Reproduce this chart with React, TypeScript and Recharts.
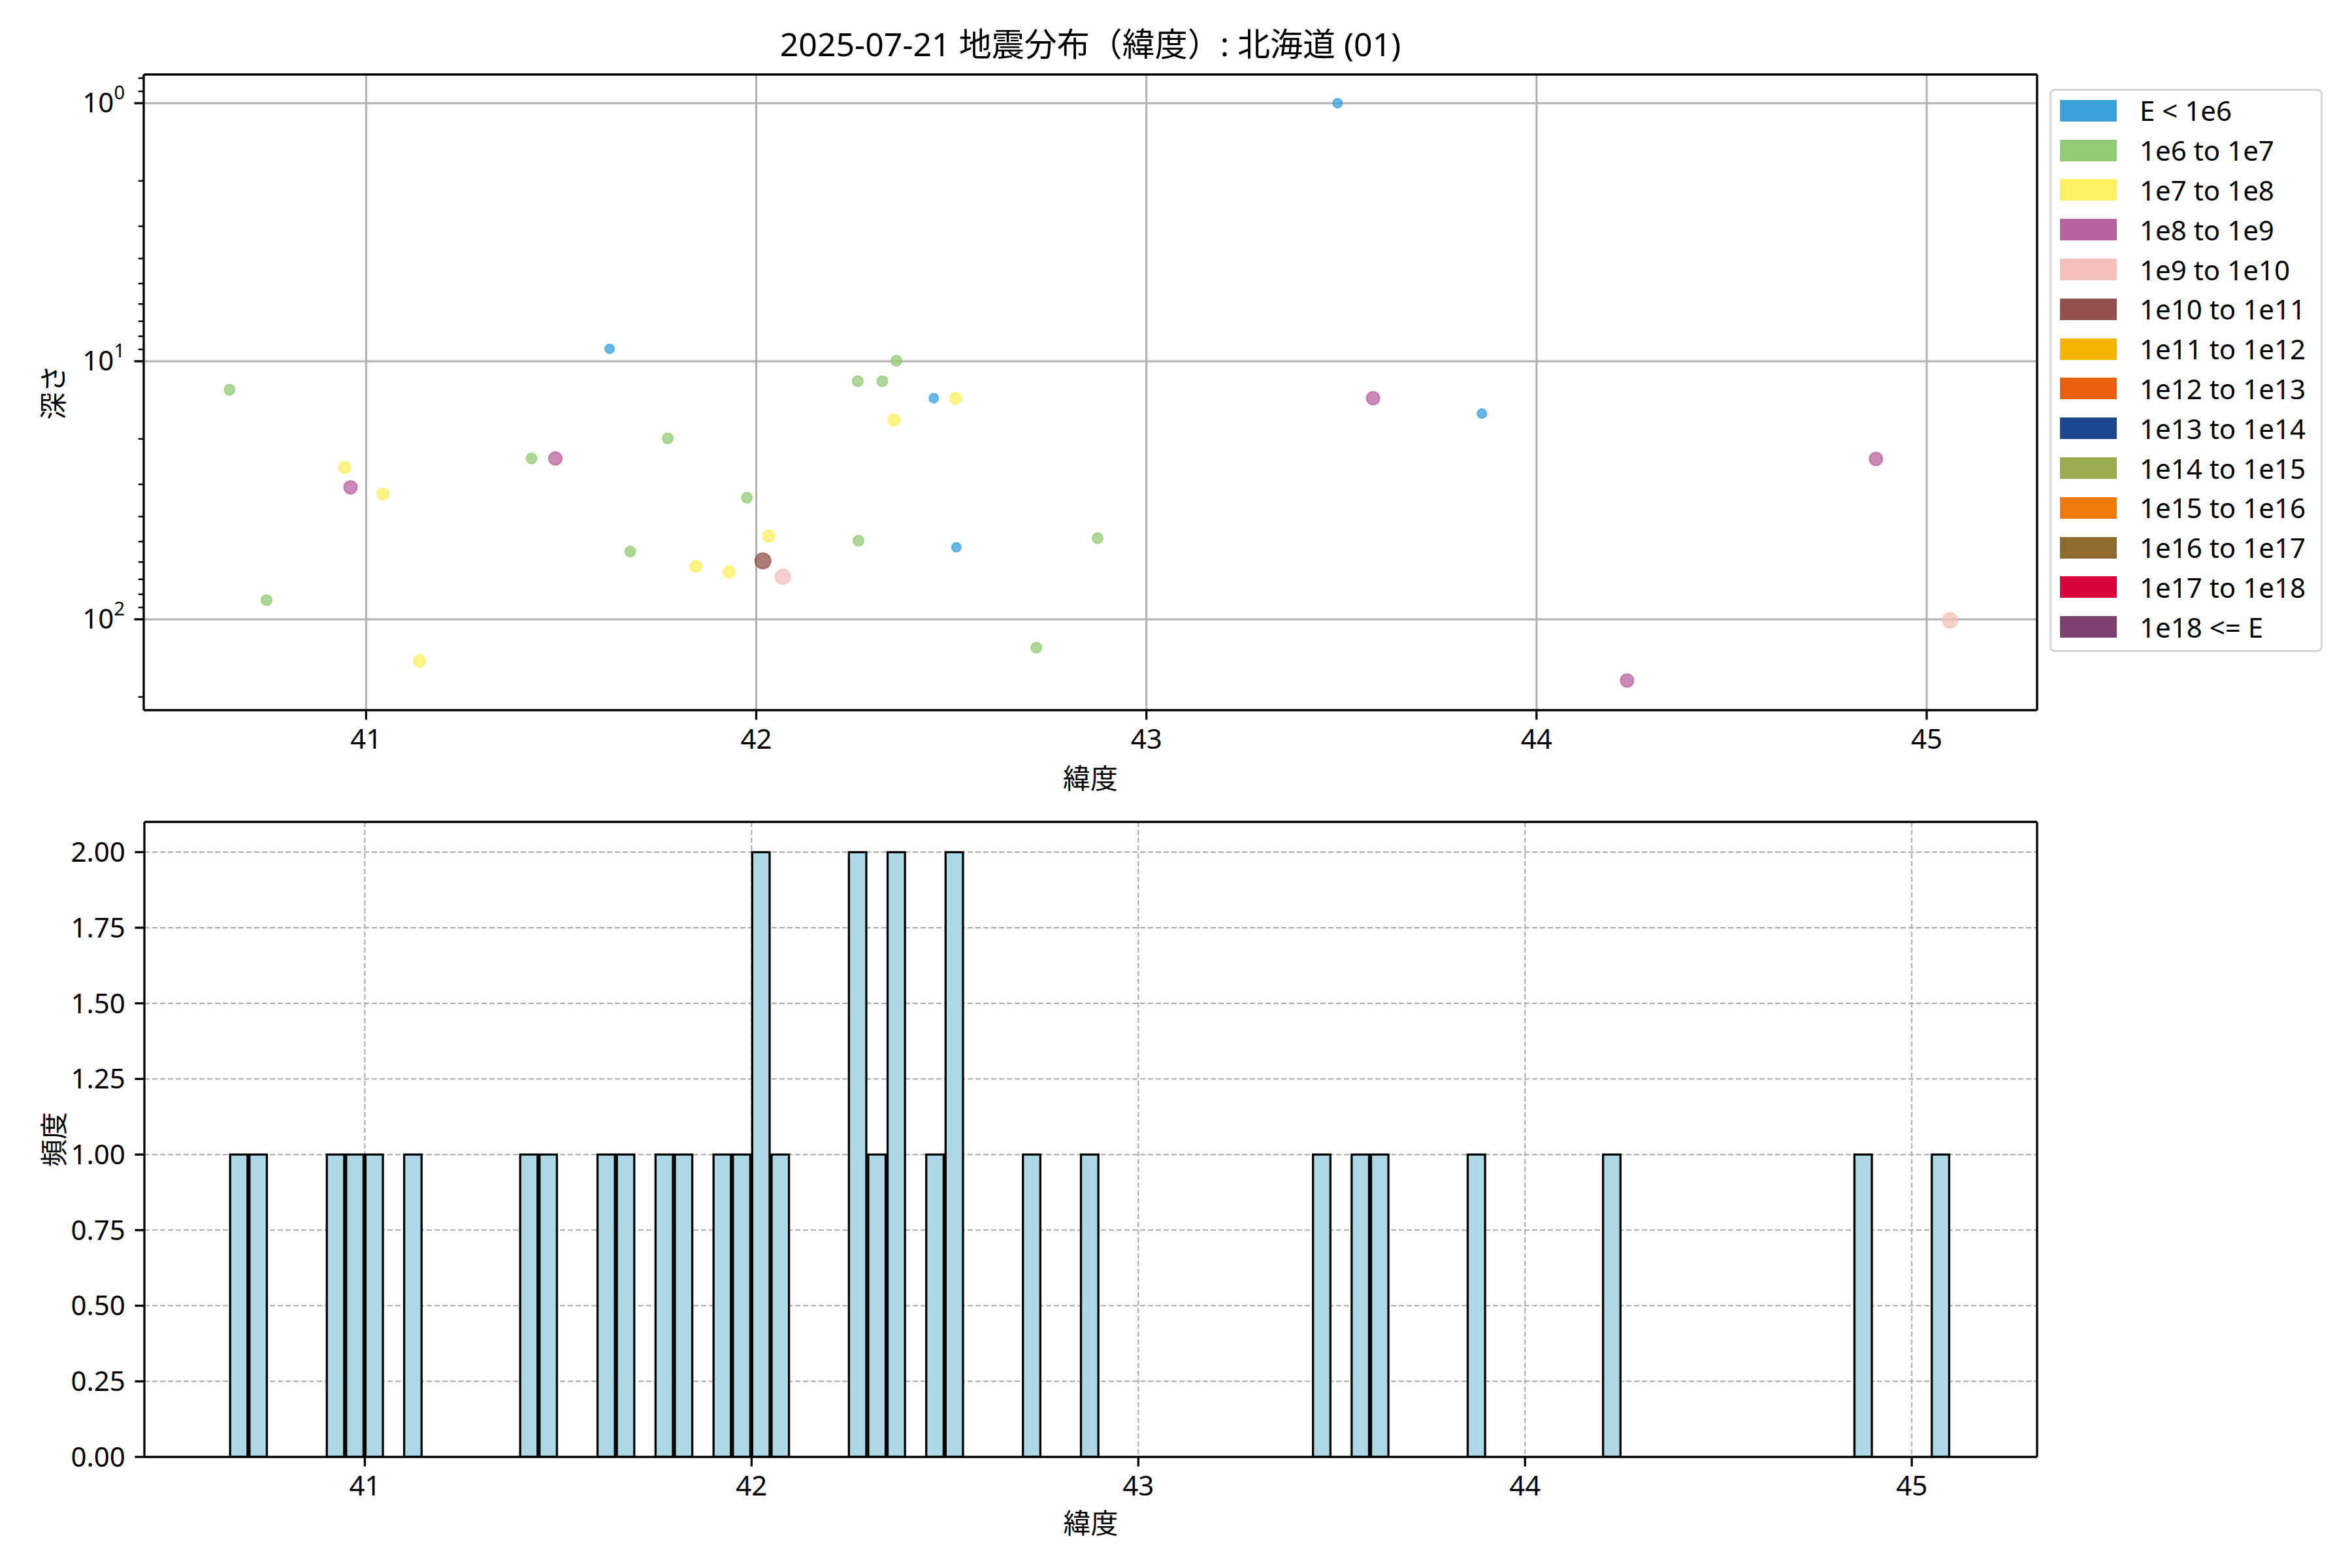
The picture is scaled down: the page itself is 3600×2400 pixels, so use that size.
import {
  ScatterChart,
  Scatter,
  BarChart,
  Bar,
  XAxis,
  YAxis,
  CartesianGrid,
  Legend,
} from 'recharts';

const FONT = "'Noto Sans', 'Noto Sans CJK JP', sans-serif";
const FS = 42;

// energy classes shown in the legend
const energyLabels = [
  'E < 1e6',
  '1e6 to 1e7',
  '1e7 to 1e8',
  '1e8 to 1e9',
  '1e9 to 1e10',
  '1e10 to 1e11',
  '1e11 to 1e12',
  '1e12 to 1e13',
  '1e13 to 1e14',
  '1e14 to 1e15',
  '1e15 to 1e16',
  '1e16 to 1e17',
  '1e17 to 1e18',
  '1e18 <= E',
];
const energyColors = [
  '#3aa0dc', '#92cb76', '#fdef5f', '#b9629f', '#f4c0bc', '#93524b', '#f7b500',
  '#e95f0a', '#1c4890', '#9aac50', '#f07a0a', '#8f6b2d', '#d60239', '#7b3f70',
];
const markerRadius = [7, 8, 9, 10, 11.5, 12, 13, 13.5, 14, 14.5, 15, 15.5, 16, 16.5];

// quakes (latitude, depth km, energy class index)
const quakeLat = [
  40.65, 40.745, 40.945, 40.96, 41.043, 41.137, 41.424, 41.485, 41.624, 41.677,
  41.773, 41.845, 41.93, 41.976, 42.017, 42.032, 42.068, 42.26, 42.262, 42.323,
  42.353, 42.359, 42.455, 42.511, 42.513, 42.718, 42.875, 43.49, 43.581, 43.86,
  44.232, 44.87, 45.06,
];
const quakeDepth = [
  12.9, 84.3, 25.8, 30.8, 32.7, 145, 23.8, 23.8, 8.95, 54.6,
  19.9, 62.4, 65.5, 33.8, 59.4, 47.6, 68.4, 11.95, 49.6, 11.95,
  16.9, 9.96, 13.9, 13.9, 52.6, 128.8, 48.5, 1.0, 13.9, 15.95,
  172.7, 23.9, 101,
];
const quakeClass = [
  1, 1, 2, 3, 2, 2, 1, 3, 0, 1,
  1, 2, 2, 1, 5, 2, 4, 1, 1, 1,
  2, 1, 0, 2, 0, 1, 1, 0, 3, 0,
  3, 3, 4,
];

// histogram, 0.05 deg bins (non-empty bins only; one depth-0 quake near 43.6 is counted here)
const histBinCenter = [
  40.675, 40.725, 40.925, 40.975, 41.025, 41.125, 41.425, 41.475, 41.625, 41.675,
  41.775, 41.825, 41.925, 41.975, 42.025, 42.075, 42.275, 42.325, 42.375, 42.475,
  42.525, 42.725, 42.875, 43.475, 43.575, 43.625, 43.875, 44.225, 44.875, 45.075,
];
const histCount = [
  1, 1, 1, 1, 1, 1, 1, 1, 1, 1,
  1, 1, 1, 1, 2, 1, 2, 1, 2, 1,
  2, 1, 1, 1, 1, 1, 1, 1, 1, 1,
];
const binWidth = 0.05;

const latTicks = [41, 42, 43, 44, 45];
const depthMajor = [1, 10, 100];
const depthMinor = [0.8, 0.9, 2, 3, 4, 5, 6, 7, 8, 9, 20, 30, 40, 50, 60, 70, 80, 90, 200];
const freqTicks = [0, 0.25, 0.5, 0.75, 1, 1.25, 1.5, 1.75, 2];

const topLatDomain = [40.43, 45.283];
const depthDomain = [0.774, 225];
const histLatDomain = [40.43, 45.324];
const freqDomain = [0, 2.1];

const W = 3600;
const PLOT_LEFT = 220;
const PLOT_RIGHT = 3118;

const spine = { stroke: '#000', strokeWidth: 3.3 };

const LogTick = (props: any) => {
  const { x, y, payload } = props;
  const v = payload.value;
  const major = depthMajor.includes(v);
  return (
    <g>
      <line x1={x} x2={x - (major ? 14.6 : 8.3)} y1={y} y2={y} stroke="#000" strokeWidth={major ? 3.3 : 2.5} />
      {major && (
        <text x={x - 29} y={y + 14} textAnchor="end" fontSize={FS} fontFamily={FONT} fill="#000">
          10
          <tspan dy={-20} fontSize={29}>{Math.round(Math.log10(v))}</tspan>
        </text>
      )}
    </g>
  );
};

const yTitle = (text: string) => ({
  content: (p: any) => {
    const vb = p.viewBox;
    const cx = vb.x - 20;
    const cy = vb.y + vb.height / 2;
    return (
      <text x={cx} y={cy} transform={`rotate(-90 ${cx} ${cy})`} textAnchor="middle" dominantBaseline="central"
        fontSize={FS} fontFamily={FONT} fill="#000">{text}</text>
    );
  },
});

const xTitle = (text: string, dy: number) => ({
  content: (p: any) => {
    const vb = p.viewBox;
    return (
      <text x={vb.x + vb.width / 2} y={vb.y + dy} textAnchor="middle" dominantBaseline="central"
        fontSize={FS} fontFamily={FONT} fill="#000">{text}</text>
    );
  },
});

const renderLegend = (props: any) => {
  const items = [...(props.payload || [])].sort(
    (a: any, b: any) => energyLabels.indexOf(a.value) - energyLabels.indexOf(b.value)
  );
  return (
    <div style={{
      boxSizing: 'border-box', width: 418, height: 862, border: '3.3px solid #d6d6d6', borderRadius: 8,
      background: '#fff', fontFamily: FONT,
    }}>
      {items.map((it: any) => (
        <div key={it.value} style={{ height: 60.8, display: 'flex', alignItems: 'center' }}>
          <div style={{ width: 87, height: 33, marginLeft: 13, background: it.color }} />
          <div style={{ marginLeft: 35, fontSize: FS, color: '#000', lineHeight: 1, whiteSpace: 'nowrap' }}>{it.value}</div>
        </div>
      ))}
    </div>
  );
};

export default function App() {
  const quakes = quakeLat.map((lat, i) => ({ lat, depth: quakeDepth[i], cls: quakeClass[i] }));
  const series = energyLabels.map((label, k) => ({
    label,
    color: energyColors[k],
    r: markerRadius[k],
    data: quakes.filter((q) => q.cls === k),
  }));
  const histData = histBinCenter.map((lat, i) => ({ lat, count: histCount[i] }));
  const pxPerDeg = (PLOT_RIGHT - PLOT_LEFT) / (histLatDomain[1] - histLatDomain[0]);
  const barPx = binWidth * pxPerDeg;

  const tickStyle = { fill: '#000', fontSize: FS, fontFamily: FONT };

  return (
    <div style={{ position: 'absolute', left: 0, top: 0, width: W, height: 2400, background: '#fff', fontFamily: FONT, overflow: 'hidden' }}>
      <div style={{ position: 'absolute', left: PLOT_LEFT, width: PLOT_RIGHT - PLOT_LEFT, top: 42, textAlign: 'center', fontSize: 50, lineHeight: '50px', color: '#000' }}>
        2025-07-21 地震分布（緯度）: 北海道 (01)
      </div>

      <div style={{ position: 'absolute', left: 0, top: 0 }}>
        <ScatterChart width={W} height={1250} margin={{ top: 113, right: W - PLOT_RIGHT - 1, left: 100, bottom: 63 }}>
          <XAxis
            type="number"
            dataKey="lat"
            domain={topLatDomain}
            allowDataOverflow
            ticks={latTicks}
            interval={0}
            height={100}
            axisLine={spine}
            tickSize={14.6}
            tickMargin={14.6}
            tickLine={spine}
            tick={tickStyle}
            label={xTitle('緯度', 103)}
          />
          <XAxis xAxisId="top" orientation="top" type="number" domain={topLatDomain} height={1}
            axisLine={spine} tick={false} tickLine={false} />
          <YAxis
            type="number"
            dataKey="depth"
            scale="log"
            domain={depthDomain}
            allowDataOverflow
            reversed
            ticks={[...depthMajor, ...depthMinor]}
            interval={0}
            width={120}
            axisLine={spine}
            tickLine={false}
            tickSize={0}
            tickMargin={0}
            tick={<LogTick />}
            label={yTitle('深さ')}
          />
          <YAxis yAxisId="right" orientation="right" type="number" domain={[0, 1]} width={1}
            axisLine={spine} tick={false} tickLine={false} />
          <CartesianGrid stroke="#b0b0b0" strokeWidth={3} horizontalValues={depthMajor} />
          {series.map((s) => (
            <Scatter
              key={s.label}
              name={s.label}
              data={s.data}
              fill={s.color}
              legendType="rect"
              isAnimationActive={false}
              shape={(p: any) => (
                <circle cx={p.cx} cy={p.cy} r={s.r} fill={s.color} fillOpacity={0.75} stroke={s.color} strokeOpacity={0.75} strokeWidth={2} />
              )}
            />
          ))}
          <Legend
            layout="vertical"
            align="center"
            verticalAlign="middle"
            wrapperStyle={{ left: 3137, top: 136, width: 418, height: 862 }}
            content={renderLegend}
          />
        </ScatterChart>
      </div>

      <div style={{ position: 'absolute', left: 0, top: 1200 }}>
        <BarChart width={W} height={1200} data={histData} margin={{ top: 57, right: W - PLOT_RIGHT - 1, left: 101, bottom: 70 }}>
          <XAxis
            type="number"
            dataKey="lat"
            domain={histLatDomain}
            allowDataOverflow
            ticks={latTicks}
            interval={0}
            height={100}
            axisLine={spine}
            tickSize={14.6}
            tickMargin={14.6}
            tickLine={spine}
            tick={tickStyle}
            label={xTitle('緯度', 100)}
          />
          <XAxis xAxisId="top" orientation="top" type="number" domain={histLatDomain} height={1}
            axisLine={spine} tick={false} tickLine={false} />
          <YAxis
            type="number"
            domain={freqDomain}
            allowDataOverflow
            ticks={freqTicks}
            interval={0}
            width={120}
            axisLine={spine}
            tickSize={14.6}
            tickMargin={14.6}
            tickLine={spine}
            tick={tickStyle}
            tickFormatter={(v: number) => v.toFixed(2)}
            label={yTitle('頻度')}
          />
          <YAxis yAxisId="right" orientation="right" type="number" domain={[0, 1]} width={1}
            axisLine={spine} tick={false} tickLine={false} />
          <Bar dataKey="count" fill="#add8e6" stroke="#000" strokeWidth={3.3} barSize={barPx} isAnimationActive={false} />
          <CartesianGrid stroke="#a8a8a8" strokeWidth={2} strokeDasharray="8 4" />
        </BarChart>
      </div>
    </div>
  );
}
